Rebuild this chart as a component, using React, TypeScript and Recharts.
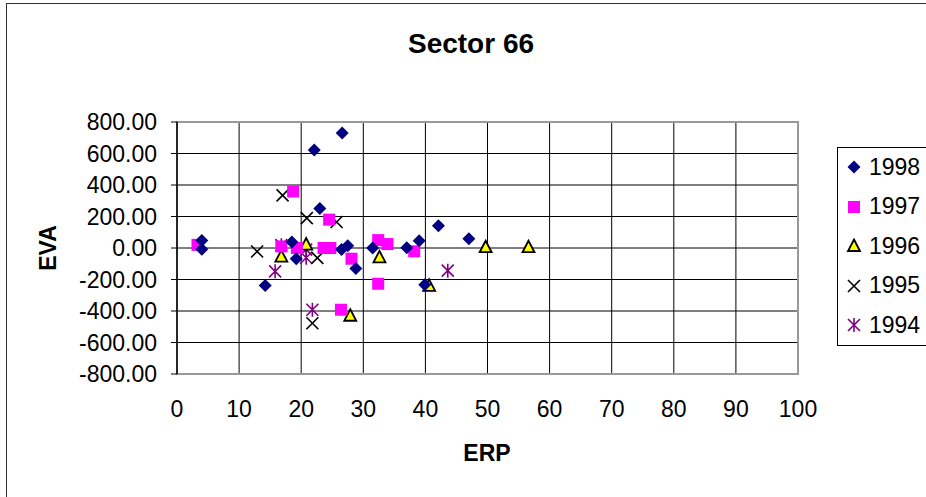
import React from "react";
import {
  ScatterChart,
  Scatter,
  XAxis,
  YAxis,
  CartesianGrid,
  ReferenceArea,
} from "recharts";

// ERP (x) vs EVA (y), one list per year
const s1998 = [
  { x: 4, y: 48 }, { x: 4, y: -8 }, { x: 14.2, y: -238 }, { x: 18.5, y: 38 },
  { x: 19.2, y: -68 }, { x: 22.1, y: 622 }, { x: 23.0, y: 251 }, { x: 26.5, y: -9 },
  { x: 27.5, y: 15 }, { x: 26.6, y: 730 }, { x: 28.8, y: -130 }, { x: 31.5, y: 0 },
  { x: 37.0, y: 2 }, { x: 39.0, y: 46 }, { x: 39.9, y: -233 }, { x: 42.1, y: 142 },
  { x: 47.0, y: 59 },
];
const s1997 = [
  { x: 3.3, y: 20 }, { x: 16.8, y: 10 }, { x: 18.7, y: 359 }, { x: 19.3, y: 0 },
  { x: 23.6, y: 0 }, { x: 24.7, y: 0 }, { x: 24.5, y: 180 }, { x: 28.1, y: -68 },
  { x: 26.4, y: -392 }, { x: 32.4, y: 50 }, { x: 33.9, y: 25 }, { x: 32.4, y: -227 },
  { x: 38.2, y: -21 },
];
const s1996 = [
  { x: 16.8, y: -55 }, { x: 20.8, y: 22 }, { x: 27.9, y: -430 }, { x: 32.6, y: -60 },
  { x: 40.6, y: -240 }, { x: 49.7, y: 5 }, { x: 56.6, y: 5 },
];
const s1995 = [
  { x: 12.9, y: -22 }, { x: 17.0, y: 334 }, { x: 20.9, y: 190 }, { x: 22.6, y: -63 },
  { x: 25.7, y: 165 }, { x: 21.8, y: -478 },
];
const s1994 = [
  { x: 15.8, y: -148 }, { x: 16.8, y: 18 }, { x: 20.8, y: -10 }, { x: 20.8, y: -62 },
  { x: 21.8, y: -392 }, { x: 43.6, y: -144 },
];

const xTicks = [0, 10, 20, 30, 40, 50, 60, 70, 80, 90, 100];
const yTicks = [-800, -600, -400, -200, 0, 200, 400, 600, 800];

const FONT = "Arial, 'Liberation Sans', sans-serif";

const Diamond = ({ cx, cy }: any) => (
  <path d={`M${cx},${cy - 6.5}L${cx + 6.5},${cy}L${cx},${cy + 6.5}L${cx - 6.5},${cy}Z`} fill="#000080" />
);
const Square = ({ cx, cy }: any) => (
  <rect x={cx - 6} y={cy - 6} width={12} height={12} fill="#ff00ff" />
);
const Triangle = ({ cx, cy }: any) => (
  <path
    d={`M${cx},${cy - 6.5}L${cx + 6},${cy + 5}L${cx - 6},${cy + 5}Z`}
    fill="#ffff00"
    stroke="#000"
    strokeWidth={1.8}
  />
);
const Cross = ({ cx, cy }: any) => (
  <path
    d={`M${cx - 6},${cy - 6}L${cx + 6},${cy + 6}M${cx + 6},${cy - 6}L${cx - 6},${cy + 6}`}
    stroke="#000"
    strokeWidth={1.6}
  />
);
const Star = ({ cx, cy }: any) => (
  <path
    d={`M${cx - 6},${cy - 6}L${cx + 6},${cy + 6}M${cx + 6},${cy - 6}L${cx - 6},${cy + 6}M${cx},${cy - 7}L${cx},${cy + 7}`}
    stroke="#800080"
    strokeWidth={1.6}
  />
);

const legendItems = [
  { name: "1998", Shape: Diamond },
  { name: "1997", Shape: Square },
  { name: "1996", Shape: Triangle },
  { name: "1995", Shape: Cross },
  { name: "1994", Shape: Star },
];

const LegendBox = () => (
  <div
    style={{
      position: "absolute",
      left: 837,
      top: 147,
      width: 100,
      height: 199,
      border: "1px solid #000",
      background: "#fff",
      boxSizing: "border-box",
    }}
  >
    {legendItems.map((it, i) => (
      <div
        key={it.name}
        style={{
          position: "absolute",
          left: 8,
          top: 5 + i * 39.5,
          height: 28,
          display: "flex",
          alignItems: "center",
          fontFamily: FONT,
          fontSize: 23,
          color: "#000",
        }}
      >
        <svg width={16} height={16} style={{ marginRight: 7 }}>
          <it.Shape cx={8} cy={8} />
        </svg>
        {it.name}
      </div>
    ))}
  </div>
);

export default function App() {
  return (
    <div style={{ position: "absolute", left: 0, top: 0, width: 926, height: 497, background: "#fff", overflow: "hidden" }}>
      <div
        style={{
          position: "absolute",
          left: 6,
          top: 3,
          width: 940,
          height: 520,
          border: "1.5px solid #333",
        }}
      />
      <div
        style={{
          position: "absolute",
          left: 0,
          width: 942,
          top: 27,
          textAlign: "center",
          fontFamily: FONT,
          fontWeight: "bold",
          fontSize: 28,
          lineHeight: "34px",
        }}
      >
        Sector 66
      </div>
      <div
        style={{
          position: "absolute",
          left: 387,
          width: 200,
          top: 439,
          textAlign: "center",
          fontFamily: FONT,
          fontWeight: "bold",
          fontSize: 23,
          lineHeight: "28px",
        }}
      >
        ERP
      </div>
      <div
        style={{
          position: "absolute",
          left: 48 - 50,
          top: 248 - 14,
          width: 100,
          textAlign: "center",
          fontFamily: FONT,
          fontWeight: "bold",
          fontSize: 23,
          lineHeight: "28px",
          transform: "rotate(-90deg)",
        }}
      >
        EVA
      </div>
      <div style={{ position: "absolute", left: 0, top: 0 }}>
        <ScatterChart
          width={926}
          height={497}
          margin={{ top: 122, right: 128, left: 0, bottom: 0 }}
        >
          <CartesianGrid stroke="#000" strokeWidth={1} />
          <XAxis
            type="number"
            dataKey="x"
            domain={[0, 100]}
            ticks={xTicks}
            interval={0}
            height={123}
            axisLine={false}
            tickLine={false}
            tickSize={6}
            tickMargin={21}
            tick={{ fill: "#000", fontSize: 23, fontFamily: FONT }}
          />
          <YAxis
            type="number"
            dataKey="y"
            domain={[-800, 800]}
            ticks={yTicks}
            interval={0}
            width={177}
            axisLine={{ stroke: "#000", strokeWidth: 1.5 }}
            tickLine={{ stroke: "#000" }}
            tickSize={6}
            tickMargin={14}
            tickFormatter={(v: number) => v.toFixed(2)}
            tick={{ fill: "#000", fontSize: 23, fontFamily: FONT }}
          />
          <ReferenceArea
            x1={0}
            x2={100}
            y1={-800}
            y2={800}
            fill="none"
            fillOpacity={0}
            stroke="#999"
            strokeWidth={2}
            ifOverflow="visible"
          />
          <Scatter name="1994" data={s1994} shape={Star} isAnimationActive={false} />
          <Scatter name="1995" data={s1995} shape={Cross} isAnimationActive={false} />
          <Scatter name="1996" data={s1996} shape={Triangle} isAnimationActive={false} />
          <Scatter name="1997" data={s1997} shape={Square} isAnimationActive={false} />
          <Scatter name="1998" data={s1998} shape={Diamond} isAnimationActive={false} />
        </ScatterChart>
      </div>
      <LegendBox />
    </div>
  );
}
